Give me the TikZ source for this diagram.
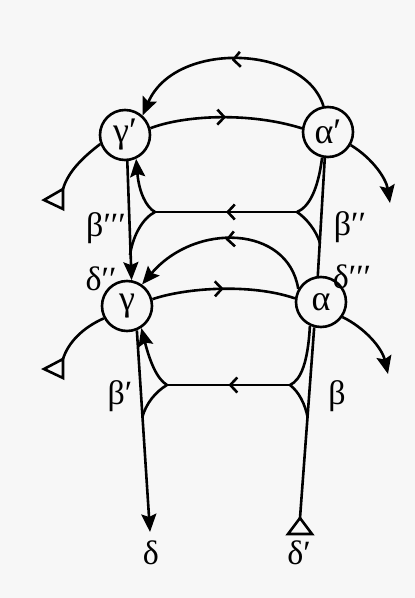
\documentclass[tikz,border=0pt]{standalone}
\usepackage{fontspec}
\setmainfont{Liberation Serif}
\usetikzlibrary{arrows.meta,decorations.markings}
\begin{document}
\begin{tikzpicture}[x=1pt,y=-1pt,
  line width=2.6pt,
  person/.style={circle,draw,minimum size=50pt,inner sep=0pt,font=\fontsize{36}{36}\selectfont},
  lbl/.style={font=\fontsize{34}{34}\selectfont,inner sep=0pt},
  head/.style={-{Stealth[length=18pt,width=15pt,inset=3pt]}},
  chev/.style={postaction={decorate},decoration={markings,mark=at position #1 with {\arrow{Straight Barb[length=7pt,width=15pt]}}}},
  chev/.default=0.5,
  tri/.style={line join=miter}
]
\fill[gray!6] (0,0) rectangle (415,598);
\useasboundingbox (0,0) rectangle (415,598);

% persons
\node[person] (g1) at (125,135) {γ′};
\node[person] (a1) at (328,132) {α′};
\node[person] (g)  at (127,306) {γ};
\node[person] (a)  at (321,302) {α};

% fork points
\coordinate (uL) at (155,212);
\coordinate (uR) at (297,212);
\coordinate (uLj) at (130,255);
\coordinate (uRj) at (320,243);
\coordinate (lL) at (167,385);
\coordinate (lR) at (290,385);
\coordinate (lLj) at (142.3,417);
\coordinate (lRj) at (307.6,417);
\coordinate (dtip) at (150,532);
\coordinate (dptip) at (300,518);
\coordinate (rt1) at (390,203);
\coordinate (rt2) at (388,374);
\coordinate (lt1) at (63,189);
\coordinate (lt2) at (63,359);

% labels
\node[lbl] (b3) at (106,228) {β′′′};
\node[lbl] (b2) at (350,227) {β′′};
\node[lbl] (d2) at (101,279) {δ′′};
\node[lbl] (d3) at (352,277) {δ′′′};
\node[lbl] (b1) at (120,396) {β′};
\node[lbl] (b0) at (337,396) {β};
\node[lbl] (d0) at (151,553) {δ};
\node[lbl] (d1) at (299,553) {δ′};

% top arcs
\draw[head,chev] (a1.100) .. controls (305,45) and (175,40) .. (g1.48);
\draw[chev] (g1.15) .. controls (185,115) and (250,112) .. (a1.172);

% verticals
\draw[head] (g1.-85) -- (g.80);
\draw (a1.-97) -- (a.97);
\draw[head] (g.-68) -- (dtip);
\draw (a.-105) -- (dptip);
\draw[tri] (dptip) -- ++(12,16) -- ++(-24,0) -- cycle;

% upper fork
\draw[chev] (uR) -- (uL);
\draw[head] (uL) .. controls (146,207) and (139,192) .. (g1.-65);
\draw (uL) .. controls (143,218) and (133,235) .. (uLj);
\draw (uR) .. controls (309,207) and (318,190) .. (a1.-103);
\draw (uR) .. controls (306,218) and (316,230) .. (uRj);

% middle arcs
\draw[head,chev] (a.150) .. controls (288,225) and (195,222) .. (g.55);
\draw[chev] (g.15) .. controls (185,288) and (250,283) .. (a.172);

% lower fork
\draw[chev] (lR) -- (lL);
\draw[head] (lL) .. controls (157,379) and (150,362) .. (g.-57);
\draw (lL) .. controls (155,392) and (146,404) .. (lLj);
\draw (lR) .. controls (301,380) and (308,362) .. (a.-115);
\draw (lR) .. controls (299,392) and (305,404) .. (lRj);

% side arrows
\draw[head] (a1.-30) .. controls (372,158) and (386,178) .. (rt1);
\draw[head] (a.-35) .. controls (365,328) and (382,348) .. (rt2);
\draw (g1.200) .. controls (82,158) and (68,172) .. (lt1);
\draw[tri] (lt1) -- ++(0,20) -- ++(-19,-9) -- cycle;
\draw (g.208) .. controls (82,328) and (68,343) .. (lt2);
\draw[tri] (lt2) -- ++(0,19) -- ++(-19,-9) -- cycle;
\end{tikzpicture}
\end{document}
